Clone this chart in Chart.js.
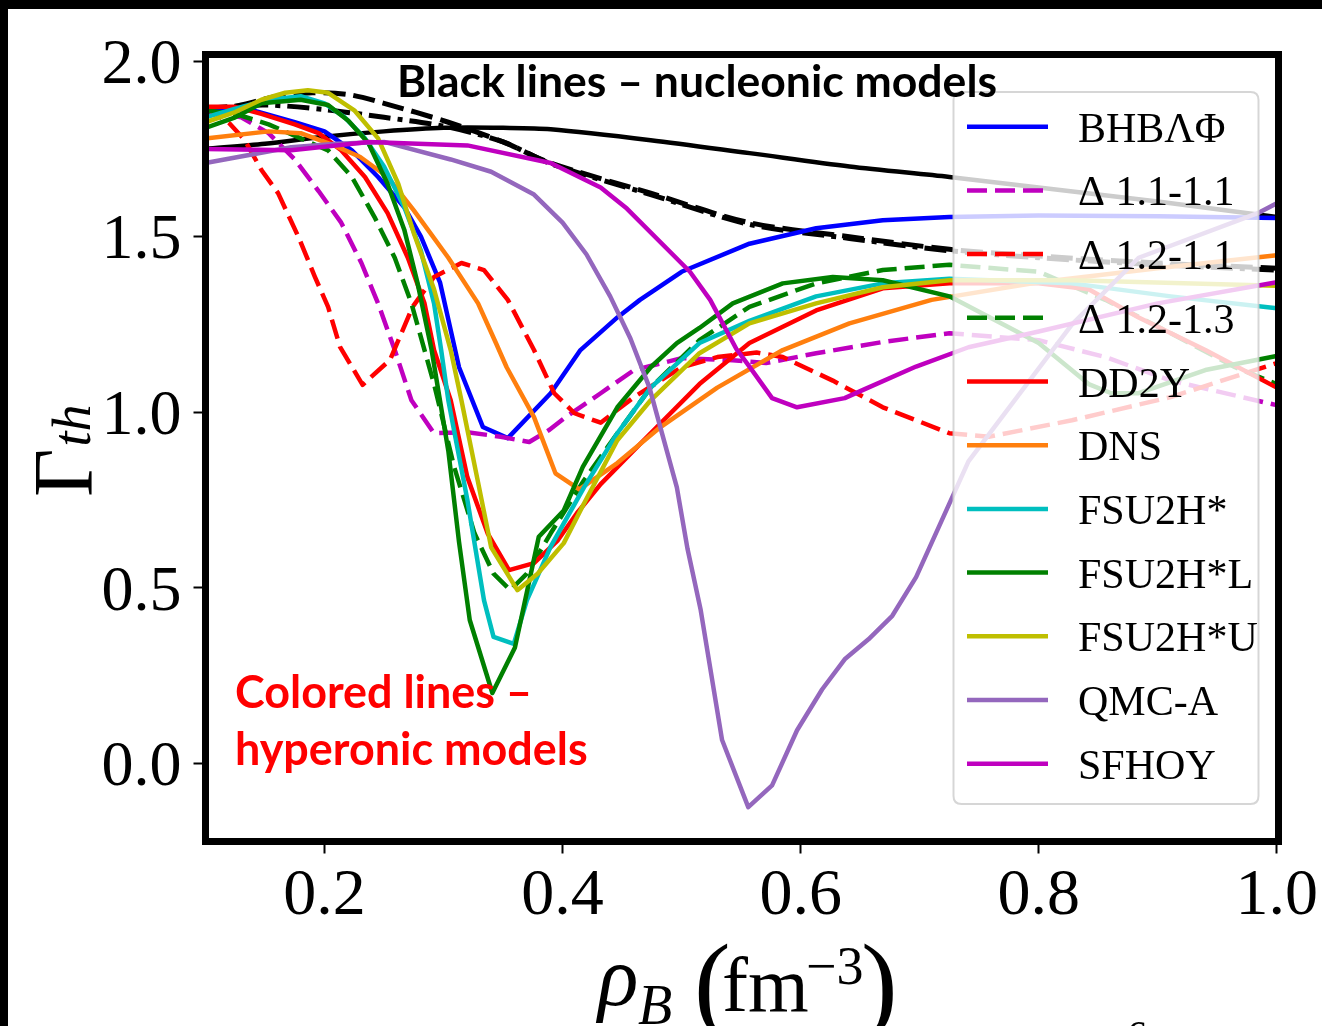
<!DOCTYPE html>
<html><head><meta charset="utf-8">
<script src="https://cdn.jsdelivr.net/npm/chart.js@4.4.0/dist/chart.umd.min.js"></script>
<style>html,body{margin:0;padding:0;background:#fff;overflow:hidden}canvas{display:block}</style>
</head><body>
<canvas id="c" width="1322" height="1026"></canvas>
<script>
// ---------- data ----------
const xTicks = [0.2, 0.4, 0.6, 0.8, 1.0];
const yTicks = [0.0, 0.5, 1.0, 1.5, 2.0];

const xBHB = [0.1,0.14,0.175,0.2,0.223,0.245,0.267,0.281,0.297,0.313,0.333,0.354,0.39,0.415,0.446,0.465,0.5,0.557,0.613,0.669,0.725,0.8,0.9,1.0];
const yBHB = [1.86,1.86,1.826,1.80,1.746,1.67,1.584,1.50,1.37,1.128,0.958,0.926,1.054,1.177,1.27,1.32,1.40,1.48,1.524,1.547,1.556,1.56,1.558,1.553];

const xD11 = [0.1,0.13,0.153,0.175,0.195,0.214,0.231,0.245,0.259,0.273,0.292,0.32,0.348,0.372,0.389,0.403,0.432,0.46,0.5,0.543,0.571,0.613,0.669,0.725,0.8,0.856,0.911,1.0];
const yD11 = [1.86,1.84,1.795,1.72,1.63,1.54,1.425,1.31,1.177,1.034,0.94,0.943,0.93,0.915,0.95,0.987,1.054,1.12,1.154,1.148,1.14,1.168,1.20,1.225,1.205,1.157,1.09,1.02];

const xD12 = [0.1,0.12,0.133,0.147,0.161,0.178,0.192,0.203,0.213,0.232,0.255,0.274,0.292,0.315,0.334,0.354,0.376,0.393,0.41,0.432,0.46,0.5,0.53,0.563,0.585,0.627,0.669,0.725,0.758,0.828,0.911,1.0];
const yD12 = [1.87,1.823,1.775,1.69,1.624,1.50,1.385,1.30,1.186,1.078,1.149,1.30,1.385,1.425,1.405,1.32,1.177,1.054,0.997,0.97,1.043,1.128,1.157,1.17,1.157,1.09,1.014,0.94,0.93,0.977,1.043,1.14];

const xD13 = [0.1,0.125,0.153,0.18,0.203,0.223,0.242,0.259,0.273,0.284,0.292,0.309,0.326,0.342,0.356,0.37,0.39,0.418,0.446,0.474,0.515,0.557,0.613,0.669,0.725,0.8,0.856,0.911,0.965,1.0];
const yD13 = [1.86,1.85,1.82,1.78,1.746,1.67,1.556,1.44,1.31,1.177,1.08,0.843,0.655,0.54,0.493,0.54,0.655,0.806,0.94,1.07,1.205,1.30,1.367,1.405,1.42,1.40,1.32,1.225,1.128,1.08];

const xDD2Y = [0.1,0.125,0.147,0.175,0.195,0.214,0.234,0.253,0.27,0.284,0.292,0.306,0.32,0.337,0.355,0.376,0.396,0.412,0.432,0.474,0.515,0.557,0.613,0.669,0.725,0.8,0.842,0.884,0.94,1.0];
const yDD2Y = [1.87,1.87,1.85,1.82,1.795,1.746,1.67,1.567,1.44,1.31,1.177,1.034,0.815,0.655,0.55,0.57,0.635,0.712,0.795,0.94,1.08,1.197,1.29,1.353,1.367,1.367,1.35,1.27,1.177,1.07];

const xDNS = [0.1,0.153,0.18,0.208,0.23,0.253,0.275,0.304,0.329,0.344,0.353,0.376,0.394,0.414,0.446,0.482,0.53,0.585,0.641,0.71,0.8,0.9,1.0];
const yDNS = [1.78,1.80,1.795,1.76,1.727,1.67,1.575,1.44,1.31,1.197,1.128,0.986,0.826,0.78,0.855,0.957,1.07,1.177,1.253,1.32,1.37,1.41,1.447];

const xFSU = [0.1,0.125,0.153,0.18,0.2,0.217,0.234,0.25,0.267,0.281,0.292,0.298,0.304,0.32,0.334,0.342,0.359,0.37,0.39,0.418,0.446,0.474,0.515,0.557,0.613,0.669,0.725,0.828,0.911,1.0];
const yFSU = [1.84,1.865,1.89,1.90,1.88,1.84,1.78,1.70,1.584,1.46,1.31,1.177,1.034,0.75,0.464,0.36,0.34,0.464,0.617,0.786,0.94,1.07,1.197,1.26,1.33,1.367,1.38,1.367,1.33,1.296];

const xFSUL = [0.1,0.125,0.147,0.18,0.203,0.22,0.237,0.253,0.267,0.278,0.29,0.304,0.313,0.322,0.341,0.36,0.368,0.38,0.401,0.417,0.446,0.474,0.496,0.515,0.543,0.585,0.627,0.669,0.725,0.8,0.842,0.861,0.884,0.94,1.0];
const yFSUL = [1.81,1.84,1.88,1.89,1.875,1.83,1.766,1.65,1.52,1.37,1.177,0.89,0.63,0.408,0.20,0.33,0.456,0.645,0.72,0.844,1.014,1.128,1.197,1.24,1.31,1.367,1.385,1.376,1.33,1.197,1.08,1.054,1.054,1.12,1.16];

const xFSUU = [0.1,0.125,0.147,0.167,0.186,0.203,0.225,0.245,0.262,0.275,0.292,0.306,0.315,0.329,0.34,0.362,0.379,0.401,0.418,0.446,0.474,0.515,0.557,0.613,0.669,0.725,0.828,1.0];
const yFSUU = [1.826,1.855,1.89,1.91,1.917,1.91,1.86,1.78,1.65,1.51,1.35,1.177,1.034,0.80,0.615,0.493,0.54,0.627,0.74,0.92,1.034,1.168,1.253,1.31,1.356,1.376,1.376,1.36];

const xQMC = [0.1,0.14,0.172,0.21,0.25,0.306,0.34,0.376,0.40,0.42,0.44,0.457,0.473,0.496,0.505,0.516,0.534,0.556,0.576,0.597,0.618,0.637,0.657,0.677,0.697,0.741,0.828,0.884,0.984,1.0];
const yQMC = [1.71,1.735,1.755,1.765,1.77,1.72,1.685,1.62,1.54,1.45,1.33,1.21,1.07,0.786,0.61,0.437,0.066,-0.125,-0.063,0.094,0.21,0.296,0.353,0.42,0.53,0.86,1.25,1.44,1.567,1.595];

const xSFHOY = [0.1,0.172,0.237,0.32,0.39,0.432,0.454,0.507,0.524,0.546,0.557,0.576,0.597,0.637,0.652,0.697,0.741,0.8,0.9,1.0];
const ySFHOY = [1.75,1.746,1.77,1.76,1.71,1.64,1.58,1.40,1.32,1.18,1.13,1.04,1.014,1.04,1.063,1.13,1.185,1.23,1.31,1.37];

// nucleonic (black) models
const xNucSolid = [0.1,0.15,0.2,0.25,0.3,0.35,0.39,0.474,0.557,0.641,0.725,0.8,0.9,1.0];
const yNucSolid = [1.75,1.765,1.785,1.80,1.81,1.81,1.806,1.775,1.738,1.70,1.67,1.64,1.60,1.556];
const xNucDash = [0.1,0.13,0.16,0.19,0.22,0.25,0.304,0.35,0.39,0.474,0.557,0.641,0.725,0.8,0.9,1.0];
const yNucDash = [1.855,1.875,1.90,1.91,1.905,1.88,1.826,1.77,1.71,1.624,1.54,1.50,1.464,1.445,1.425,1.41];
const xNucDashDot = [0.1,0.15,0.2,0.25,0.3,0.35,0.39,0.474,0.557,0.641,0.725,0.8,0.9,1.0];
const yNucDashDot = [1.866,1.875,1.862,1.84,1.815,1.77,1.708,1.62,1.535,1.495,1.46,1.44,1.42,1.405];

const seriesNames = ['BHB\u039B\u03A6','\u0394 1.1-1.1','\u0394 1.2-1.1','\u0394 1.2-1.3','DD2Y','DNS','FSU2H*','FSU2H*L','FSU2H*U','QMC-A','SFHOY'];
const seriesX = [xBHB,xD11,xD12,xD13,xDD2Y,xDNS,xFSU,xFSUL,xFSUU,xQMC,xSFHOY];
const seriesY = [yBHB,yD11,yD12,yD13,yDD2Y,yDNS,yFSU,yFSUL,yFSUU,yQMC,ySFHOY];
const seriesColors = ['#0000ff','#bf00bf','#ff0000','#008000','#ff0000','#ff7f0e','#00bfbf','#008000','#bfbf00','#9467bd','#bf00bf'];
const seriesDashed = [false,true,true,true,false,false,false,false,false,false,false];

// ---------- geometry ----------
const AREA = {left:205.5, top:54.5, right:1278.5, bottom:841.5};
const DASH = [20, 8];
const SERIF = '"Liberation Serif", "Times New Roman", serif';

function pts(xs, ys){ return xs.map((x,i)=>({x:x, y:ys[i]})); }

const datasets = [];
for (let i = seriesNames.length - 1; i >= 0; i--) {
  datasets.push({
    label: seriesNames[i], data: pts(seriesX[i], seriesY[i]),
    borderColor: seriesColors[i], borderWidth: 4.5, borderDash: seriesDashed[i] ? DASH : [],
    pointRadius: 0, tension: 0, fill: false, borderCapStyle: 'butt', borderJoinStyle: 'round'
  });
}
datasets.push({label:'nuc-solid', data: pts(xNucSolid,yNucSolid), borderColor:'#000', borderWidth:4.5, pointRadius:0, tension:0.3, fill:false});
datasets.push({label:'nuc-dash', data: pts(xNucDash,yNucDash), borderColor:'#000', borderWidth:5, borderDash:[22,8], pointRadius:0, tension:0.3, fill:false});
datasets.push({label:'nuc-dashdot', data: pts(xNucDashDot,yNucDashDot), borderColor:'#000', borderWidth:5, borderDash:[22,7,5,7], pointRadius:0, tension:0.3, fill:false});

const decor = {
  id: 'decor',
  beforeDraw(chart){
    const c = chart.ctx;
    c.save();
    c.fillStyle = '#fff'; c.fillRect(0,0,chart.width,chart.height);
    c.fillStyle = '#000'; c.fillRect(0,0,chart.width,9); c.fillRect(0,0,8,chart.height);
    c.restore();
  },
  afterDatasetsDraw(chart){
    const c = chart.ctx;
    c.save();
    // legend box
    const lx=953.5, ly=92, lw=305, lh=712, r=8;
    c.beginPath();
    c.moveTo(lx+r,ly); c.lineTo(lx+lw-r,ly); c.quadraticCurveTo(lx+lw,ly,lx+lw,ly+r);
    c.lineTo(lx+lw,ly+lh-r); c.quadraticCurveTo(lx+lw,ly+lh,lx+lw-r,ly+lh);
    c.lineTo(lx+r,ly+lh); c.quadraticCurveTo(lx,ly+lh,lx,ly+lh-r);
    c.lineTo(lx,ly+r); c.quadraticCurveTo(lx,ly,lx+r,ly); c.closePath();
    c.fillStyle = 'rgba(255,255,255,0.8)'; c.fill();
    c.strokeStyle = 'rgba(204,204,204,0.8)'; c.lineWidth = 2; c.stroke();
    c.font = '42px ' + SERIF; c.textAlign = 'left'; c.textBaseline = 'alphabetic'; c.fillStyle = '#000';
    for (let i = 0; i < seriesNames.length; i++) {
      const y = 126.7 + i*63.7;
      c.beginPath(); c.setLineDash(seriesDashed[i] ? DASH : []);
      c.strokeStyle = seriesColors[i]; c.lineWidth = 4.5; c.lineCap = 'butt';
      c.moveTo(967, y); c.lineTo(1048, y); c.stroke();
      c.setLineDash([]);
      c.fillText(seriesNames[i], 1078, y + 15);
    }
    // annotations
    c.font = 'bold 42px Lato, "Open Sans", sans-serif';
    c.fillStyle = '#000';
    let w = c.measureText('Black lines \u2013 nucleonic models').width;
    let fs = 42 * 600 / w;
    c.font = 'bold ' + fs.toFixed(1) + 'px Lato, "Open Sans", sans-serif';
    c.fillText('Black lines \u2013 nucleonic models', 397, 97);
    c.fillStyle = '#ff0000';
    c.font = 'bold 42px Lato, "Open Sans", sans-serif';
    w = c.measureText('hyperonic models').width;
    fs = 42 * 353 / w;
    c.font = 'bold ' + fs.toFixed(1) + 'px Lato, "Open Sans", sans-serif';
    c.fillText('Colored lines \u2013', 235, 708);
    c.fillText('hyperonic models', 235, 765);
    // frame
    c.strokeStyle = '#000'; c.lineWidth = 7;
    c.strokeRect(AREA.left, AREA.top, AREA.right-AREA.left, AREA.bottom-AREA.top);
    c.restore();
  },
  afterDraw(chart){
    const c = chart.ctx;
    c.save(); c.fillStyle = '#000';
    // y title: Gamma_th
    c.translate(92, 497); c.rotate(-Math.PI/2);
    c.textBaseline = 'alphabetic'; c.textAlign = 'left';
    c.font = '84px ' + SERIF; c.fillText('\u0393', 0, 0);
    const gw = c.measureText('\u0393').width;
    c.font = 'italic 54px ' + SERIF; c.fillText('th', gw + 2, -2);
    c.restore();
    // x title: rho_B (fm^-3)
    c.save(); c.fillStyle = '#000'; c.textBaseline = 'alphabetic'; c.textAlign = 'left';
    c.font = 'italic 84px ' + SERIF; c.fillText('\u03C1', 598, 1005);
    c.font = 'italic 56px ' + SERIF; c.fillText('B', 638, 1024);
    c.font = '110px ' + SERIF; c.fillText('(', 694, 1020);
    c.font = '78px ' + SERIF; c.fillText('fm', 722, 1011);
    c.font = '54px ' + SERIF; c.fillText('\u22123', 806, 984);
    c.font = '110px ' + SERIF; c.fillText(')', 861, 1020);
    c.font = '40px ' + SERIF; c.fillText('6', 1127, 1048);
    c.restore();
  }
};

new Chart(document.getElementById('c'), {
  type: 'line',
  data: { datasets: datasets },
  options: {
    responsive: false, animation: false, devicePixelRatio: 1,
    layout: { padding: { left: 0, top: AREA.top, right: 1322 - AREA.right, bottom: 0 } },
    scales: {
      x: {
        type: 'linear', min: 0.1, max: 1.0,
        afterFit(s){ s.height = 1026 - AREA.bottom; },
        afterBuildTicks(s){ s.ticks = xTicks.map(v => ({value: v})); },
        ticks: { callback: v => v.toFixed(1), color: '#000', font: { family: SERIF, size: 66 }, padding: 4, maxRotation: 0, autoSkip: false },
        grid: { display: true, drawOnChartArea: false, drawTicks: true, tickLength: 12, tickWidth: 2, tickColor: '#000' },
        border: { display: false }
      },
      y: {
        type: 'linear', min: -0.223, max: 2.019,
        afterFit(s){ s.width = AREA.left; },
        afterBuildTicks(s){ s.ticks = yTicks.map(v => ({value: v})); },
        ticks: { callback: v => v.toFixed(1), color: '#000', font: { family: SERIF, size: 64 }, padding: 12, labelOffset: 5, autoSkip: false },
        grid: { display: true, drawOnChartArea: false, drawTicks: true, tickLength: 12, tickWidth: 2, tickColor: '#000' },
        border: { display: false }
      }
    },
    plugins: { legend: { display: false }, tooltip: { enabled: false } }
  },
  plugins: [decor]
});
</script>
</body></html>
